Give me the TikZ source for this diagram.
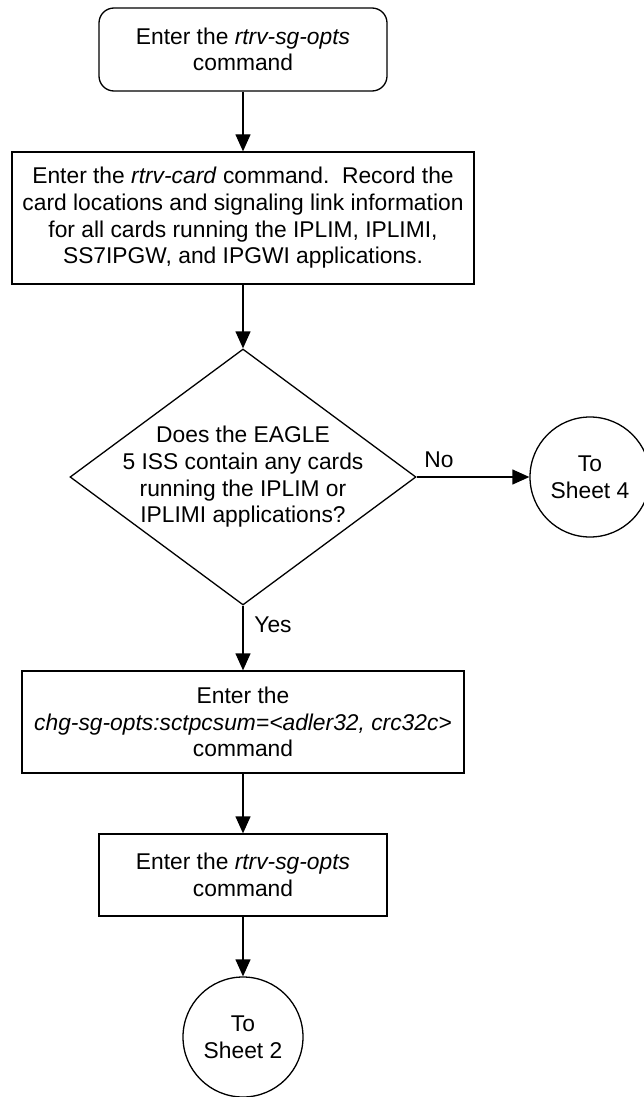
\documentclass[tikz,border=0pt]{standalone}
\usepackage{fontspec}
\setmainfont{Liberation Sans}
\usetikzlibrary{shapes.geometric,arrows.meta}
\begin{document}
\begin{tikzpicture}[x=1pt,y=-1pt,
  every node/.style={font=\fontsize{22.8}{26.7}\selectfont},
  base/.style={draw=black, line width=1.3pt, align=center, inner sep=0pt},
  proc/.style={base, rectangle},
  term/.style={base, rectangle, rounded corners=15pt},
  conn/.style={base, circle, minimum size=120pt},
  decis/.style={base, diamond, minimum width=346pt, minimum height=256pt},
  txt/.style={align=center, inner sep=0pt},
  arr/.style={line width=1.3pt, -{Triangle[length=17pt,width=15pt]}}]
\useasboundingbox (0,0) rectangle (643,1097);

\node[term, minimum width=288pt, minimum height=83pt] (start) at (243,49.5)
  {Enter the \textit{rtrv-sg-opts}\\command};
\node[proc, minimum width=462pt, minimum height=132pt] (card) at (243,218)
  {Enter the \textit{rtrv-card} command.\ \ Record the\\card locations and signaling link information\\for all cards running the IPLIM, IPLIMI,\\SS7IPGW, and IPGWI applications.};
\node[decis] (dec) at (243,477) {};
\node[txt] (dectext) at (dec.center)
  {Does the EAGLE\\5 ISS contain any cards\\running the IPLIM or\\IPLIMI applications?};
\node[conn] (s4) at (590,477) {To\\Sheet 4};
\node[proc, minimum width=442pt, minimum height=102pt] (chg) at (243,722)
  {Enter the\\\textit{chg-sg-opts:sctpcsum=<adler32, crc32c>}\\command};
\node[proc, minimum width=288pt, minimum height=82pt] (rtrv) at (243,875)
  {Enter the \textit{rtrv-sg-opts}\\command};
\node[conn] (s2) at (243,1037) {To\\Sheet 2};

\node[txt] (no) at (439,460) {No};
\node[txt] (yes) at (273,625) {Yes};

\draw[arr] (start) -- (card);
\draw[arr] (card) -- (dec.north);
\draw[arr] (dec.east) -- (s4.west);
\draw[arr] (dec.south) -- (chg);
\draw[arr] (chg) -- (rtrv);
\draw[arr] (rtrv) -- (s2);
\end{tikzpicture}
\end{document}
